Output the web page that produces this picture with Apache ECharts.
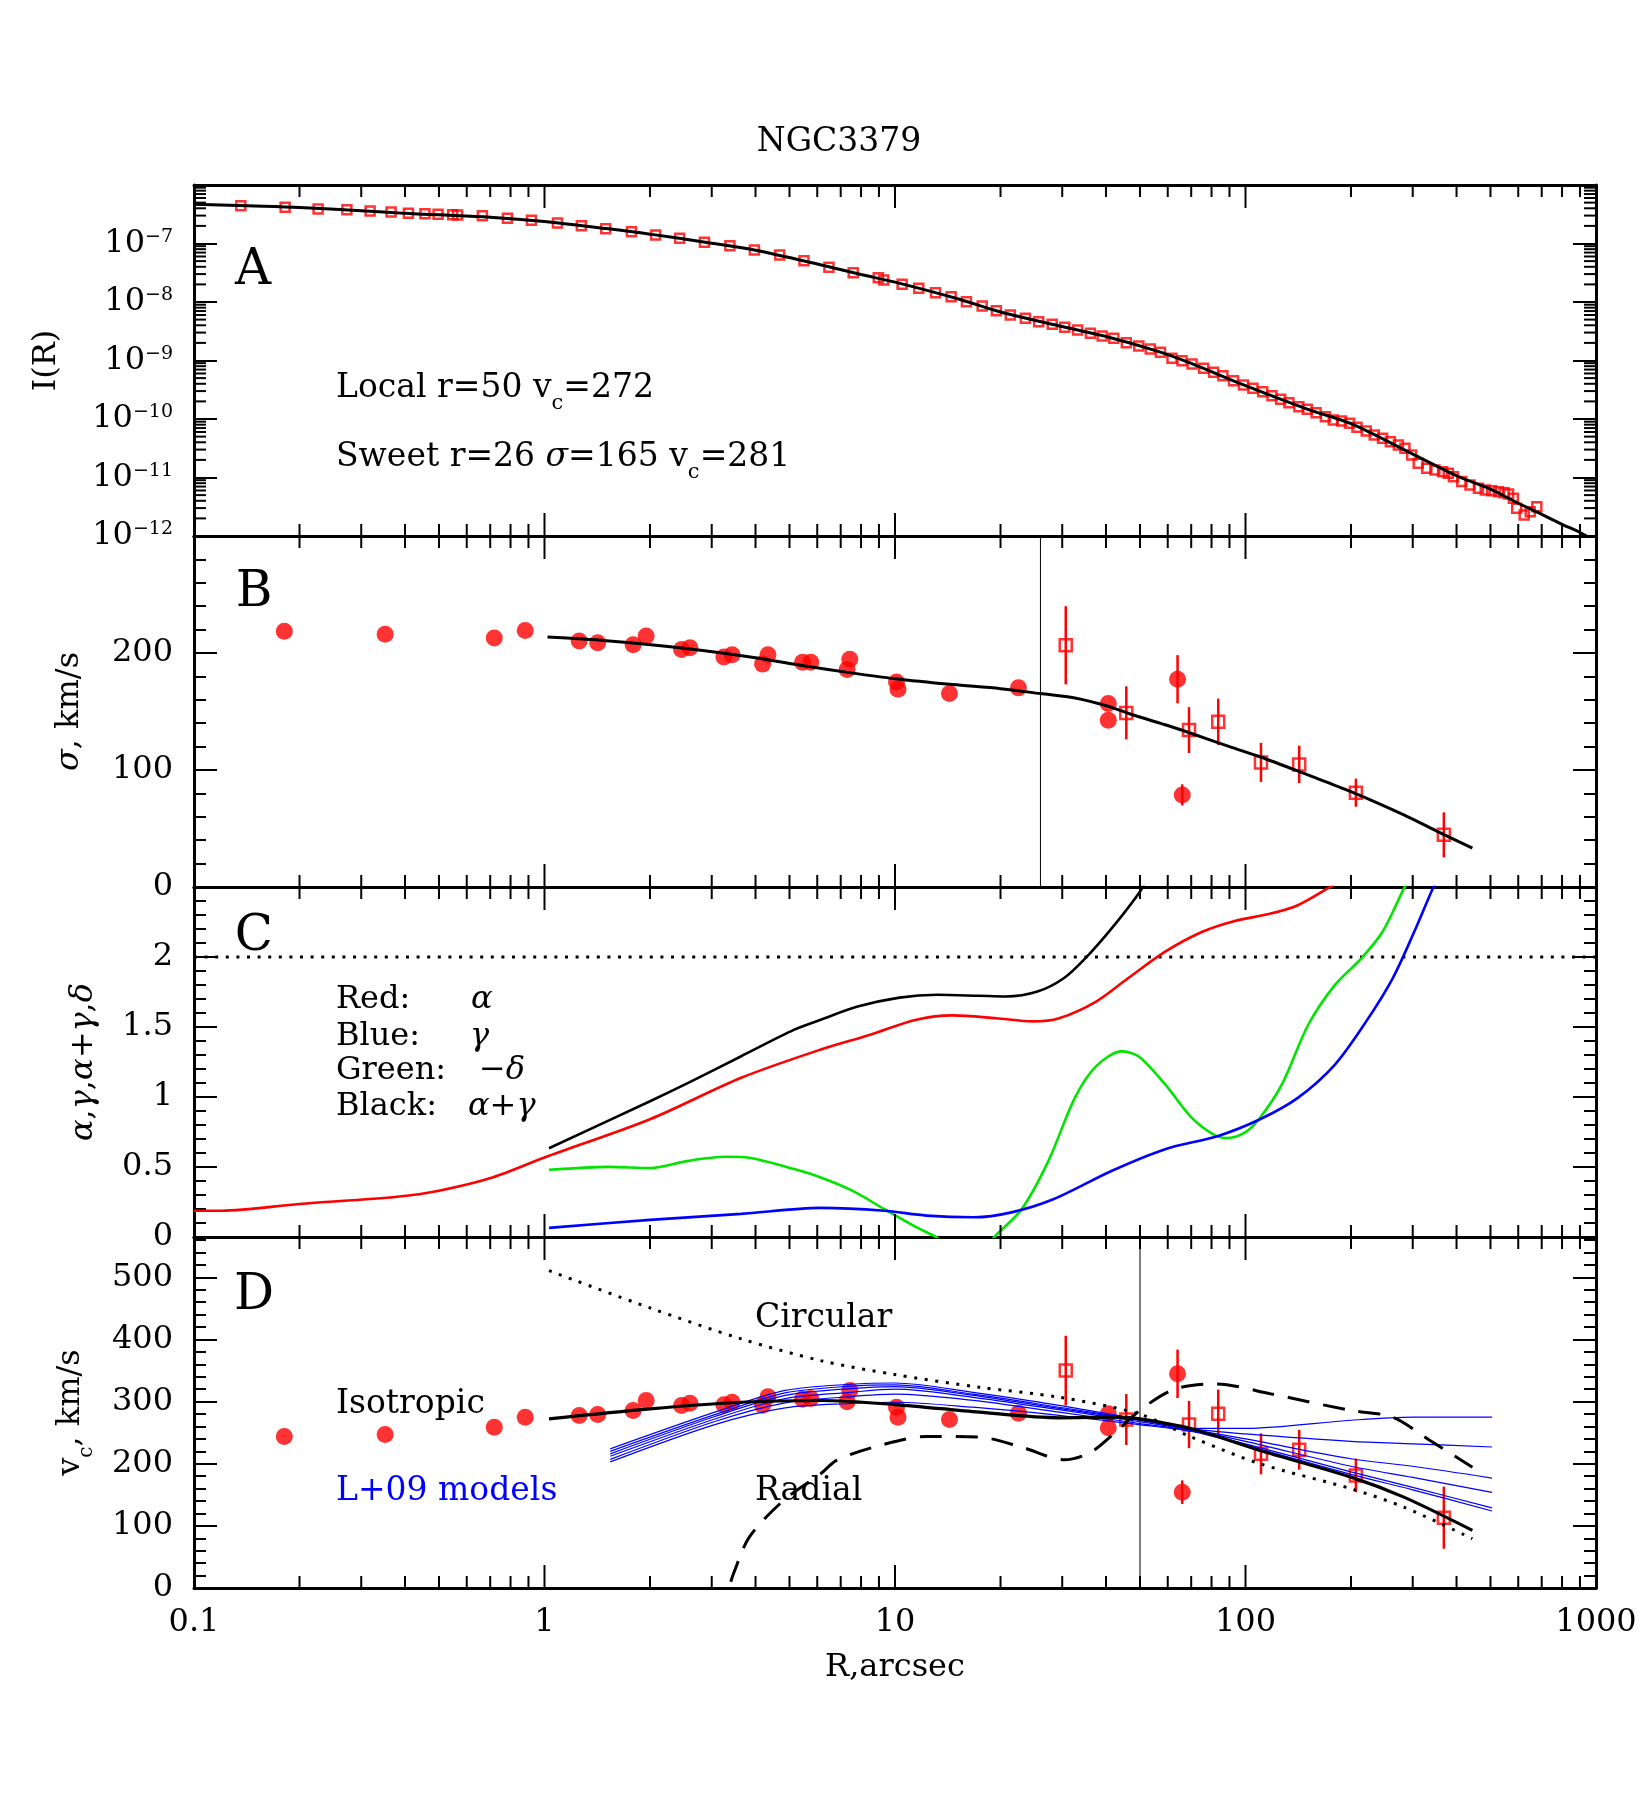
<!DOCTYPE html>
<html>
<head>
<meta charset="utf-8">
<title>NGC3379</title>
<script src="https://cdn.jsdelivr.net/npm/echarts@6/dist/echarts.min.js"></script>
<style>
  html, body { margin: 0; background: #fff; }
  #chart { width: 1652px; height: 1813px; }
</style>
</head>
<body>
<div id="chart"></div>
<script>
// ---- panel A : I(R), squares + fit (values stored as log10 I) ----
const aSqR = [0.136,0.182,0.226,0.273,0.318,0.365,0.409,0.456,0.497,0.547,0.565,0.665,0.784,0.918,1.089,1.274,1.495,1.77,2.075,2.43,
  2.86,3.38,3.97,4.69,5.50,6.48,7.60,8.96,9.29,10.48,11.69,13.05,14.46,15.99,17.73,19.46,21.33,23.55,25.7,28.1,30.5,33.2,36.1,39.0,42.1,45.7,49.6,53.5,57.2,61.7,
  65.9,70.4,76.0,81.1,86.2,92.4,98.7,105,112,119,126,133,142,150,159,169,178,188,198,208,221,233,246,259,273,285,298,311,329,347,365,379,392,414,437,462,483,504,527,547,563,581,594,624,649,678];
const aSqLogI = [-6.354,-6.382,-6.41,-6.422,-6.444,-6.462,-6.484,-6.49,-6.50,-6.508,-6.513,-6.525,-6.57,-6.604,-6.65,-6.695,-6.746,-6.80,-6.855,-6.91,
  -6.98,-7.037,-7.111,-7.197,-7.294,-7.407,-7.499,-7.585,-7.624,-7.698,-7.767,-7.84,-7.909,-7.994,-8.068,-8.148,-8.222,-8.279,-8.337,-8.382,-8.433,-8.479,-8.535,-8.581,-8.621,-8.696,-8.752,-8.803,-8.86,-8.962,
  -9.003,-9.06,-9.134,-9.202,-9.26,-9.345,-9.419,-9.475,-9.533,-9.602,-9.663,-9.721,-9.79,-9.834,-9.892,-9.96,-10.017,-10.034,-10.074,-10.142,-10.205,-10.274,-10.33,-10.388,-10.444,-10.50,-10.615,-10.757,-10.843,-10.872,-10.90,-10.928,-10.986,-11.07,-11.128,-11.185,-11.214,-11.225,-11.242,-11.26,-11.282,-11.356,-11.527,-11.64,-11.585,-11.50];
const aFitR = [0.1,0.15,0.2,0.3,0.4,0.5,0.7,1,1.5,2,3,4,6,8,10,15,20,30,40,56,70,100,150,200,300,400,500,600,700,800,900,1000];
const aFitLogI = [-6.33,-6.36,-6.385,-6.44,-6.485,-6.51,-6.55,-6.625,-6.745,-6.84,-6.995,-7.115,-7.35,-7.53,-7.66,-7.94,-8.17,-8.42,-8.59,-8.84,-9.05,-9.43,-9.83,-10.08,-10.6,-10.97,-11.2,-11.44,-11.63,-11.8,-11.94,-12.09];

// ---- panel B : sigma ----
const bDotR = [0.181,0.351,0.719,0.881,1.256,1.418,1.79,1.95,2.46,2.60,3.25,3.43,4.19,4.34,5.45,5.75,7.30,7.43,10.1,10.2,14.3,22.5,40.6,40.6,64,66];
const bDotS = [218.5,216,212.8,219.3,210.2,208.8,207,214.5,203,204.5,196.6,198.6,190.5,198.5,192,192,185.8,194.6,175.3,169.1,165.3,170.2,156.8,142.6,177.6,78.7];
const bDotE = [0,0,0,0,0,0,0,0,0,0,0,0,0,0,0,0,0,0,0,0,0,0,0,0,20.6,9];
const bSqR = [30.7,45.7,69.0,83.6,110.7,142.3,206.5,368];
const bSqS = [206.6,148.8,134.1,141.2,106.5,104.8,80.6,44.6];
const bSqE = [33.4,22.7,19.6,19.8,16.7,16,12,19.2];
const bFitR = [1.02,1.5,2.57,4,5.53,7.5,10,14.6,20,26,32.6,40,47.8,60,70.2,90,110,150,200,283,350,444];
const bFitS = [213.6,210.5,203.7,196,189,183,178,173,169.5,165.3,161.6,155,147,138,131.2,120,111.3,96,81.5,61.6,48,33.2];
const sweetR = 26;

// ---- panel C : alpha, gamma, -delta, alpha+gamma ----
const cRedR = [0.1,0.12,0.2,0.38,0.5,0.71,1.0,2.0,3.64,6.14,8.5,11.5,14.6,19.4,24.7,29.4,37.5,46.2,59,75.3,92.7,118,141,171,200];
const cRedV = [0.188,0.188,0.236,0.288,0.331,0.425,0.568,0.841,1.137,1.339,1.445,1.552,1.583,1.563,1.54,1.563,1.682,1.848,2.038,2.18,2.256,2.31,2.37,2.488,2.6];
const cBlackR = [1.03,2.0,2.57,3.64,5.16,6.14,7.82,10.3,13.2,17.4,20.7,25.5,30.3,34.9,41.5,50.3,53];
const cBlackV = [0.634,0.97,1.101,1.291,1.481,1.552,1.646,1.71,1.73,1.723,1.718,1.753,1.848,1.99,2.204,2.477,2.6];
const cGreenR = [1.03,1.53,2.0,2.57,3.28,3.91,5.16,6.14,7.55,9.31,11.5,13.1,15.5,17.5,19.2,23.0,27.4,32.6,37.5,44.3,49.5,59,70.2,80.7,88.1,99.5,110,127,151,180,214,246,283,300];
const cGreenV = [0.48,0.501,0.492,0.544,0.573,0.563,0.485,0.425,0.331,0.2,0.07,0,-0.12,-0.12,0,0.2,0.544,0.994,1.22,1.326,1.291,1.09,0.852,0.734,0.706,0.745,0.852,1.09,1.516,1.801,1.99,2.18,2.488,2.6];
const cBlueR = [1.03,2.0,3.64,6.14,9.31,12.3,16.8,21.5,28.4,41.6,59,83.6,110,141,180,221,263,303,342,360];
const cBlueV = [0.065,0.122,0.165,0.208,0.188,0.153,0.141,0.176,0.271,0.473,0.627,0.722,0.841,0.994,1.232,1.54,1.848,2.18,2.488,2.6];
const cLevel = 2;

// ---- panel D : v_c ----
const dDotR = bDotR;
const dDotV = [243.9,247.1,258.8,275,277.7,279.3,285.7,302,293.7,297.5,294.8,299,294,308,304,305,300,318,291,275,271.2,281.4,280.4,257.9,344.7,154.3];
const dDotE = [0,0,0,0,0,0,0,0,0,0,0,0,0,0,0,0,0,0,0,0,0,0,0,0,39,19];
const dSqR = bSqR;
const dSqV = [350,271.2,263.2,280.4,216,222.5,181.2,113.2];
const dSqE = [56,41,38,39,33,32,27,50];
const dIsoR = [1.03,2.0,3.64,6.14,9.98,17.4,29.4,43.0,50.0,70.2,110,200,283,444];
const dIsoV = [272.3,288.4,299,301.8,295.3,283,274,275,272.3,256.3,221.4,178.5,146.3,92.8];
const dCircR = [1.03,2.0,3.64,6.14,9.98,17.4,29.4,49.5,70.2,110,200,283,444];
const dCircV = [510.8,450.8,401,366,343.6,323.2,307.1,280.4,242.8,200,159.8,130.2,79.4];
const dRadR = [3.4,3.46,3.84,4.81,6.14,6.81,8.69,12.3,17.4,23.0,30.4,36.2,43.1,51.3,63.2,82.1,118,200,263,336,444];
const dRadV = [10,23,82,141,184,205.3,226.7,243.9,242.8,226.7,206.4,218.6,253.5,291,320.6,328.6,312.5,285.7,275,237.5,194.5];
const dModR = [1.54,3.06,4.86,7.47,10,16.7,29.4,49.5,70.2,100,200,300,505];
const dModels = [
  [224,283,318,328,330,315,294,272,257,257,270,275,275],
  [220,279,314,325,327,312,291,271,256,248,236,232,227],
  [216,276,310,321,324,310,289,270,255,240,208,196,177],
  [212,272,305,315,320,307,287,268,254,236,196,178,154],
  [207,268,298,308,312,302,283,265,253,232,187,162,129],
  [203,263,290,297,299,291,278,263,252,230,183,158,124]
];
const localR = 50;

// ---- axes ----
const xMajor = [0.1, 1, 10, 100, 1000];
const xMinorSteps = [2, 3, 4, 5, 6, 7, 8, 9];
const aMinorDecades = [1e-12, 1e-11, 1e-10, 1e-9, 1e-8, 1e-7];
const yRanges = [[1e-12, 1e-6], [0, 300], [0, 2.5], [0, 565]];

const FONT = 'DejaVu Serif';
const BLACK = '#000';
const RED = '#ff0000';
const BLUE = '#0000ff';
const GREEN = '#00e400';
const MAJOR_LEN = 23, MINOR_LEN = 12;

const grids = [185, 536, 887, 1237].map((t, i) => ({
  left: 194, width: 1402, top: t, height: i === 2 ? 350 : 351, outerBoundsMode: 'none'
}));

const zip = (xs, ys) => xs.map((x, i) => [x, ys[i]]);
const pow10 = (xs, ys) => xs.map((x, i) => [x, Math.pow(10, ys[i])]);

// x axes: bottom + top per grid
const xAxis = [];
grids.forEach((g, i) => {
  ['bottom', 'top'].forEach(pos => {
    const lab = i === 3 && pos === 'bottom';
    xAxis.push({
      type: 'log', logBase: 10, gridIndex: i, position: pos, min: 0.1, max: 1000,
      axisLine: { onZero: false, lineStyle: { color: BLACK, width: 3 } },
      axisTick: { show: false }, splitLine: { show: false },
      axisLabel: {
        show: lab, margin: 19, color: BLACK, fontFamily: FONT, fontSize: 32,
        formatter: v => String(+v.toPrecision(3))
      },
      name: lab ? 'R,arcsec' : '', nameLocation: 'middle', nameGap: 64,
      nameTextStyle: { color: BLACK, fontFamily: FONT, fontSize: 32 }
    });
  });
});

function yAxisDef(i, pos, o) {
  const labelled = pos === 'left' && o.labels !== false;
  return {
    type: i === 0 ? 'log' : 'value', logBase: 10, gridIndex: i, position: pos,
    min: yRanges[i][0], max: yRanges[i][1], interval: o.interval,
    axisLine: { show: o.line !== false, onZero: false, lineStyle: { color: BLACK, width: 3 } },
    axisTick: { show: true, inside: true, length: o.tickLen || MAJOR_LEN, lineStyle: { color: BLACK, width: 2 } },
    minorTick: { show: !!o.minor, splitNumber: o.minor || 5, length: MINOR_LEN, lineStyle: { color: BLACK, width: 2 } },
    splitLine: { show: false }, minorSplitLine: { show: false },
    axisLabel: Object.assign({
      show: labelled, inside: false, margin: 21, color: BLACK, fontFamily: FONT, fontSize: 32, showMaxLabel: false
    }, o.label || {}),
    name: labelled ? o.name : '', nameLocation: 'middle', nameGap: o.nameGap,
    nameTextStyle: Object.assign({ color: BLACK, fontFamily: FONT, fontSize: 32 }, o.nameStyle || {})
  };
}

// 10^-n labels; the top decade (10^-6) is left unlabelled as in the original
const supLabel = {
  formatter: v => {
    const e = Math.round(Math.log10(v));
    return e > -7 ? '' : '{b|10}{s|\u2212' + Math.abs(e) + '}';
  },
  rich: {
    b: { fontFamily: FONT, fontSize: 32, color: BLACK, lineHeight: 32 },
    s: { fontFamily: FONT, fontSize: 19, color: BLACK, lineHeight: 19, verticalAlign: 'top' }
  }
};
const greek = { fontFamily: FONT, fontSize: 32, color: BLACK, fontStyle: 'italic' };

const yAxis = [
  yAxisDef(0, 'left', { label: supLabel, name: 'I(R)', nameGap: 131 }),
  yAxisDef(0, 'right', {}),
  yAxisDef(1, 'left', { interval: 100, minor: 5, name: '{g|\u03c3}, km/s', nameGap: 108, nameStyle: { rich: { g: greek } } }),
  yAxisDef(1, 'right', { interval: 100, minor: 5 }),
  yAxisDef(2, 'left', { interval: 0.5, minor: 5, name: '{g|\u03b1},{g|\u03b3},{g|\u03b1}+{g|\u03b3},{g|\u03b4}', nameGap: 94, nameStyle: { rich: { g: greek } } }),
  yAxisDef(2, 'right', { interval: 0.5, minor: 5 }),
  yAxisDef(3, 'left', { interval: 100, name: 'v{s|c}, km/s', nameGap: 97,
    nameStyle: { lineHeight: 52, rich: { s: { fontFamily: FONT, fontSize: 20, color: BLACK, lineHeight: 20, verticalAlign: 'bottom' } } } }),
  yAxisDef(3, 'right', { interval: 100 }),
  yAxisDef(3, 'left', { interval: 20, tickLen: MINOR_LEN, line: false, labels: false }),
  yAxisDef(3, 'right', { interval: 20, tickLen: MINOR_LEN, line: false })
];
const yLeft = [0, 2, 4, 6];

// tick marks for the log x axes
const xTickVals = [];
xMajor.forEach(v => xTickVals.push([v, MAJOR_LEN]));
xMajor.slice(0, 4).forEach(d => xMinorSteps.forEach(k => xTickVals.push([+(k * d).toPrecision(3), MINOR_LEN])));

function xTickItem(params, api) {
  const cs = params.coordSys;
  const x = api.coord([api.value(0), api.value(1)])[0];
  const len = api.value(2);
  const st = { stroke: BLACK, lineWidth: 2 };
  return { type: 'group', children: [
    { type: 'line', shape: { x1: x, y1: cs.y + cs.height, x2: x, y2: cs.y + cs.height - len }, style: st },
    { type: 'line', shape: { x1: x, y1: cs.y, x2: x, y2: cs.y + len }, style: st }
  ] };
}
function yLogTickItem(params, api) {
  const cs = params.coordSys;
  const y = api.coord([api.value(0), api.value(1)])[1];
  const st = { stroke: BLACK, lineWidth: 2 };
  return { type: 'group', children: [
    { type: 'line', shape: { x1: cs.x, y1: y, x2: cs.x + MINOR_LEN, y2: y }, style: st },
    { type: 'line', shape: { x1: cs.x + cs.width, y1: y, x2: cs.x + cs.width - MINOR_LEN, y2: y }, style: st }
  ] };
}
function errItem(params, api) {
  const p1 = api.coord([api.value(0), api.value(1)]);
  const p2 = api.coord([api.value(0), api.value(2)]);
  return { type: 'line', shape: { x1: p1[0], y1: p1[1], x2: p2[0], y2: p2[1] }, style: { stroke: RED, lineWidth: 2.5 } };
}
const errData = (xs, ys, es) => xs.map((x, i) => [x, ys[i] - es[i], ys[i] + es[i]]).filter((d, i) => es[i] > 0);

function line(g, data, color, width, type, extra) {
  return Object.assign({
    type: 'line', xAxisIndex: g * 2, yAxisIndex: yLeft[g], data, showSymbol: false, symbol: 'none',
    smooth: 0.3, clip: true, silent: true, z: 4,
    lineStyle: { color, width, type: type || 'solid' }
  }, extra || {});
}
function squares(g, data, size, bw) {
  return { type: 'scatter', xAxisIndex: g * 2, yAxisIndex: yLeft[g], data, symbol: 'rect', symbolSize: size,
    silent: true, z: 3, itemStyle: { color: 'rgba(0,0,0,0)', borderColor: RED, borderWidth: bw } };
}
function dots(g, data) {
  return { type: 'scatter', xAxisIndex: g * 2, yAxisIndex: yLeft[g], data, symbol: 'circle', symbolSize: 17,
    silent: true, z: 3, itemStyle: { color: RED } };
}
function errors(g, data) {
  return { type: 'custom', xAxisIndex: g * 2, yAxisIndex: yLeft[g], data, encode: { x: 0, y: [1, 2] },
    renderItem: errItem, silent: true, z: 3 };
}

const series = [];
// ticks on every panel
grids.forEach((g, i) => {
  series.push({ type: 'custom', xAxisIndex: i * 2, yAxisIndex: yLeft[i], silent: true, z: 10,
    data: xTickVals.map(t => [t[0], yRanges[i][0], t[1]]), encode: { x: 0, y: 1 }, renderItem: xTickItem });
});
const aMinorVals = [];
aMinorDecades.forEach(d => xMinorSteps.forEach(k => aMinorVals.push([1, k * d])));
series.push({ type: 'custom', xAxisIndex: 0, yAxisIndex: 0, silent: true, z: 10,
  data: aMinorVals, encode: { x: 0, y: 1 }, renderItem: yLogTickItem });

// A
series.push(squares(0, pow10(aSqR, aSqLogI), 9, 2.5));
series.push(line(0, pow10(aFitR, aFitLogI), BLACK, 3));
// B
series.push(line(1, [[sweetR, 0], [sweetR, 300]], BLACK, 1, 'solid', { smooth: false, z: 2 }));
series.push(dots(1, zip(bDotR, bDotS)));
series.push(errors(1, errData(bDotR, bDotS, bDotE)));
series.push(errors(1, errData(bSqR, bSqS, bSqE)));
series.push(squares(1, zip(bSqR, bSqS), 12, 2.5));
series.push(line(1, zip(bFitR, bFitS), BLACK, 3));
// C
series.push(line(2, [[0.1, cLevel], [1000, cLevel]], BLACK, 3, [3, 7.6], { smooth: false }));
series.push(line(2, zip(cRedR, cRedV), RED, 2.6));
series.push(line(2, zip(cBlackR, cBlackV), BLACK, 2.6));
series.push(line(2, zip(cGreenR, cGreenV), GREEN, 2.6));
series.push(line(2, zip(cBlueR, cBlueV), BLUE, 2.6));
// D
series.push(line(3, [[localR, 0], [localR, 565]], BLACK, 1, 'solid', { smooth: false, z: 2 }));
series.push(dots(3, zip(dDotR, dDotV)));
series.push(errors(3, errData(dDotR, dDotV, dDotE)));
series.push(errors(3, errData(dSqR, dSqV, dSqE)));
series.push(squares(3, zip(dSqR, dSqV), 12, 2.5));
dModels.forEach(m => series.push(line(3, zip(dModR, m), BLUE, 1.2)));
series.push(line(3, zip(dCircR, dCircV), BLACK, 3, [3, 7.6]));
series.push(line(3, zip(dRadR, dRadV), BLACK, 3, [22, 14]));
series.push(line(3, zip(dIsoR, dIsoV), BLACK, 3.2));

// texts
function txt(x, y, text, o) {
  return { type: 'text', x, y, silent: true, z: 20,
    style: Object.assign({ text, fill: BLACK, fontFamily: FONT, fontSize: 33,
      align: 'left', verticalAlign: 'middle', textAlign: 'left', textVerticalAlign: 'middle' }, o || {}) };
}
const subRich = { s: { fontFamily: FONT, fontSize: 21, fill: BLACK, lineHeight: 21, verticalAlign: 'bottom' },
  g: { fontFamily: FONT, fontSize: 33, fill: BLACK, fontStyle: 'italic', lineHeight: 52 } };
const gItalic = { fontStyle: 'italic', fontSize: 32 };
const big = { fontSize: 50, align: 'center', textAlign: 'center' };
const graphic = [
  txt(839, 142, 'NGC3379', { align: 'center', textAlign: 'center' }),
  txt(253, 271, 'A', big),
  txt(254, 593, 'B', big),
  txt(254, 937, 'C', big),
  txt(254, 1296, 'D', big),
  txt(336, 388, 'Local r=50 v{s|c}=272', { lineHeight: 52, rich: subRich }),
  txt(336, 457, 'Sweet r=26 {g|\u03c3}=165 v{s|c}=281', { lineHeight: 52, rich: subRich }),
  txt(336, 1000, 'Red:', { fontSize: 32 }),
  txt(471, 1000, '\u03b1', gItalic),
  txt(336, 1037, 'Blue:', { fontSize: 32 }),
  txt(470, 1037, '\u03b3', gItalic),
  txt(336, 1071, 'Green:', { fontSize: 32 }),
  txt(479, 1071, '\u2212\u03b4', gItalic),
  txt(336, 1107, 'Black:', { fontSize: 32 }),
  txt(468, 1107, '\u03b1+\u03b3', gItalic),
  txt(755, 1318, 'Circular'),
  txt(336, 1404, 'Isotropic'),
  txt(336, 1491, 'L+09 models', { fill: BLUE }),
  txt(755, 1491, 'Radial')
];

const chart = echarts.init(document.getElementById('chart'), null, { renderer: 'canvas' });
chart.setOption({
  backgroundColor: '#fff',
  animation: false,
  textStyle: { fontFamily: FONT },
  grid: grids,
  xAxis,
  yAxis,
  series,
  graphic
});
</script>
</body>
</html>
